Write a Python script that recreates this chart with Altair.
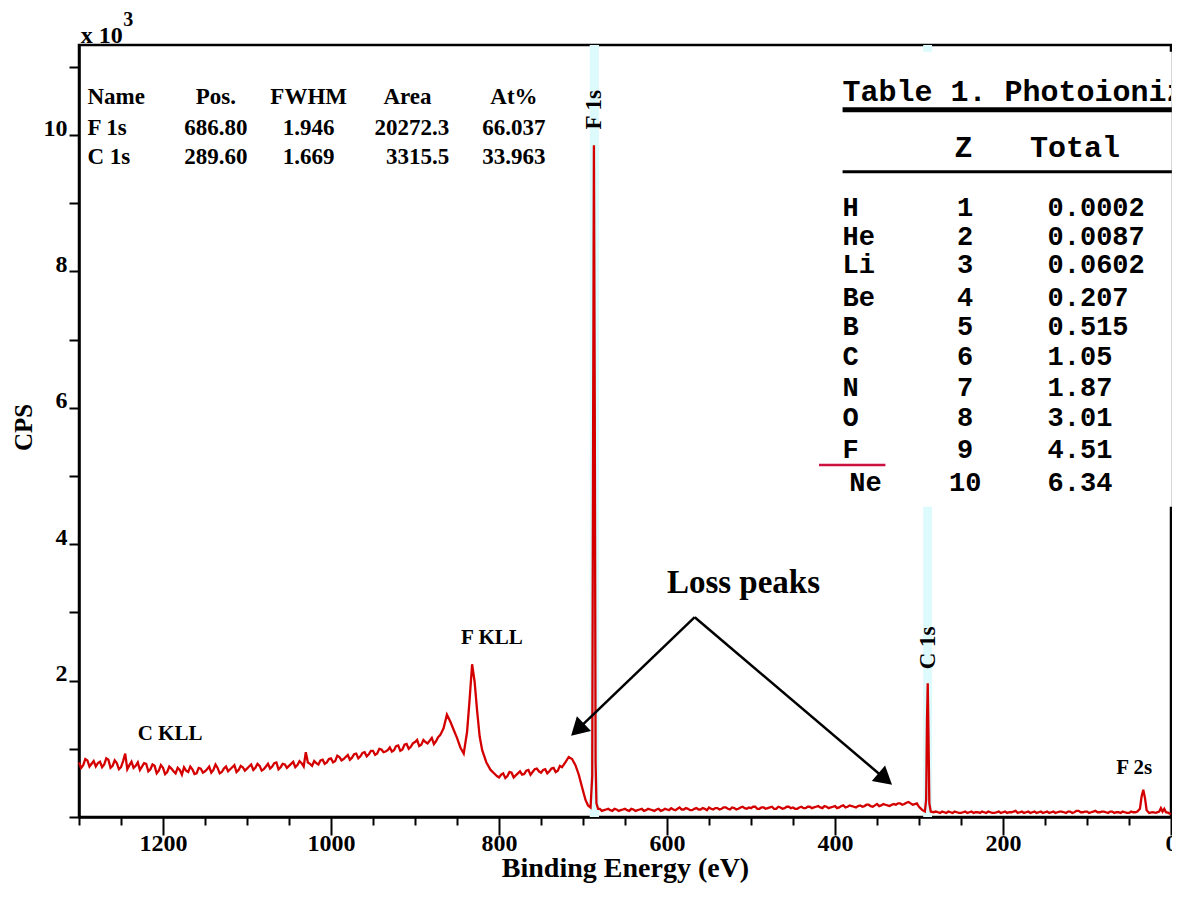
import altair as alt
import pandas as pd

# ---------------- spectrum (binding energy eV, intensity in 10^3 CPS) ----------------
be_a = list(range(1300, 869, -5))
cps_a = [0.80, 0.76, 0.83, 0.78, 0.74, 0.81, 0.77, 0.84, 0.75, 0.79,
         0.73, 0.93, 0.76, 0.72, 0.80, 0.74, 0.78, 0.70, 0.75, 0.68,
         0.72, 0.66, 0.71, 0.64, 0.69, 0.73, 0.66, 0.70, 0.64, 0.71,
         0.67, 0.74, 0.69, 0.72, 0.66, 0.74, 0.70, 0.76, 0.69, 0.73,
         0.71, 0.77, 0.72, 0.75, 0.70, 0.78, 0.74, 0.80, 0.73, 0.77,
         0.75, 0.81, 0.76, 0.79, 0.95, 0.78, 0.82, 0.77, 0.84, 0.80,
         0.86, 0.82, 0.88, 0.85, 0.91, 0.87, 0.93, 0.89, 0.95, 0.92,
         0.97, 0.93, 0.99, 0.96, 1.02, 0.98, 1.05, 0.99, 1.07, 1.03,
         1.10, 1.04, 1.13, 1.08, 1.16, 1.11,
         1.20]
be_a2 = [v / 10 for v in range(12975, 8720, -50)]
cps_a2 = [0.72, 0.85, 0.74, 0.82, 0.79, 0.73, 0.86, 0.72, 0.83, 0.70,
          0.82, 0.70, 0.81, 0.75, 0.69, 0.79, 0.67, 0.77, 0.64, 0.76,
          0.63, 0.74, 0.67, 0.72, 0.62, 0.68, 0.74, 0.63, 0.72, 0.65,
          0.70, 0.65, 0.77, 0.64, 0.71, 0.67, 0.73, 0.66, 0.75, 0.68,
          0.74, 0.69, 0.78, 0.68, 0.74, 0.71, 0.79, 0.70, 0.78, 0.72,
          0.78, 0.73, 0.82, 0.74, 0.80, 0.75, 0.79, 0.83, 0.78, 0.85,
          0.80, 0.90, 0.83, 0.88, 0.84, 0.92, 0.86, 0.94, 0.89, 0.97,
          0.91, 1.00, 0.95, 0.98, 0.96, 1.04, 0.97, 1.06, 1.00, 1.08,
          1.13, 1.06, 1.10, 1.12, 1.07, 1.17]
be_b = [866, 862, 858, 854, 850, 846, 842, 838, 835, 832, 829, 826, 823, 820, 815, 810]
cps_b = [1.30, 1.50, 1.40, 1.28, 1.16, 1.02, 0.93, 1.25, 1.72, 2.24, 1.98, 1.55, 1.18, 0.98, 0.80, 0.69]
be_c = list(range(805, 724, -5))
cps_c = [0.63, 0.58, 0.64, 0.60, 0.65, 0.61, 0.67, 0.63, 0.69, 0.66, 0.71, 0.65, 0.70, 0.67, 0.72, 0.68, 0.73]
be_c2 = [v / 10 for v in range(8025, 7270, -50)]
cps_c2 = [0.60, 0.62, 0.57, 0.66, 0.58, 0.64, 0.62, 0.68, 0.62, 0.70, 0.67, 0.69, 0.64, 0.71, 0.66, 0.75]
be_d = [721, 717, 713, 709, 705, 701, 697, 694, 691, 689, 688, 687, 686, 685, 684, 682]
cps_d = [0.80, 0.88, 0.85, 0.76, 0.62, 0.43, 0.25, 0.17, 0.14, 0.60, 5.50, 9.85, 6.00, 0.80, 0.20, 0.12]
be_e = list(range(680, 299, -5))
cps_e = [0.12, 0.10, 0.12, 0.09, 0.11, 0.10, 0.12, 0.09, 0.11, 0.10,
         0.12, 0.10, 0.11, 0.09, 0.12, 0.10, 0.11, 0.13, 0.10, 0.14,
         0.11, 0.12, 0.10, 0.13, 0.11, 0.12, 0.14, 0.11, 0.13, 0.12,
         0.14, 0.11, 0.13, 0.12, 0.15, 0.12, 0.13, 0.15, 0.12, 0.14,
         0.13, 0.15, 0.12, 0.14, 0.13, 0.15, 0.14, 0.12, 0.15, 0.13,
         0.15, 0.14, 0.16, 0.13, 0.15, 0.14, 0.16, 0.14, 0.17, 0.15,
         0.16, 0.14, 0.17, 0.16, 0.18, 0.15, 0.19, 0.17, 0.18, 0.16,
         0.19, 0.20, 0.18, 0.21, 0.20, 0.19, 0.15]
be_e2 = [v / 10 for v in range(6775, 3020, -50)]
cps_e2 = [0.09, 0.11, 0.10, 0.12, 0.09, 0.11, 0.10, 0.12, 0.09, 0.11,
          0.09, 0.12, 0.10, 0.11, 0.09, 0.12, 0.10, 0.11, 0.12, 0.11,
          0.13, 0.10, 0.12, 0.11, 0.13, 0.10, 0.12, 0.13, 0.11, 0.14,
          0.12, 0.14, 0.11, 0.14, 0.13, 0.14, 0.15, 0.12, 0.14, 0.12,
          0.14, 0.12, 0.15, 0.12, 0.15, 0.13, 0.12, 0.14, 0.13, 0.15,
          0.13, 0.15, 0.14, 0.16, 0.13, 0.15, 0.13, 0.16, 0.14, 0.17,
          0.15, 0.16, 0.15, 0.18, 0.16, 0.17, 0.16, 0.19, 0.17, 0.18,
          0.18, 0.20, 0.19, 0.22, 0.18, 0.20]
be_f = [296, 293, 291.5, 290.5, 289.6, 288.7, 287.7, 286, 283]
cps_f = [0.10, 0.08, 0.25, 1.40, 1.96, 1.20, 0.20, 0.08, 0.07]
be_g = list(range(280, 39, -5))
cps_g = [0.08, 0.06, 0.07, 0.08, 0.06, 0.07, 0.06, 0.08, 0.07, 0.06,
         0.07, 0.08, 0.06, 0.07, 0.06, 0.08, 0.07, 0.06, 0.07, 0.09,
         0.07, 0.06, 0.08, 0.07, 0.06, 0.08, 0.07, 0.06, 0.08, 0.07,
         0.08, 0.06, 0.08, 0.07, 0.09, 0.07, 0.08, 0.07, 0.09, 0.07,
         0.08, 0.06, 0.08, 0.07, 0.06, 0.07, 0.06, 0.07, 0.08]
be_g2 = [v / 10 for v in range(2775, 420, -50)]
cps_g2 = [0.07, 0.08, 0.06, 0.07, 0.08, 0.06, 0.07, 0.06, 0.08, 0.07,
          0.06, 0.07, 0.08, 0.06, 0.07, 0.06, 0.08, 0.07, 0.08, 0.06,
          0.08, 0.07, 0.06, 0.08, 0.07, 0.06, 0.08, 0.07, 0.06, 0.08,
          0.07, 0.08, 0.06, 0.09, 0.07, 0.08, 0.06, 0.08, 0.07, 0.08,
          0.07, 0.08, 0.06, 0.07, 0.08, 0.06, 0.08, 0.07]
be_h = [37, 35, 33, 31, 29, 26, 22, 18, 14, 12, 10, 8, 6, 3, 0]
cps_h = [0.12, 0.30, 0.40, 0.28, 0.10, 0.06, 0.07, 0.06, 0.08, 0.13, 0.08, 0.12, 0.07, 0.06, 0.04]

be = be_a + be_a2 + be_b + be_c + be_c2 + be_d + be_e + be_e2 + be_f + be_g + be_g2 + be_h
cps = cps_a + cps_a2 + cps_b + cps_c + cps_c2 + cps_d + cps_e + cps_e2 + cps_f + cps_g + cps_g2 + cps_h
spec = pd.DataFrame({"be": be, "kcps": cps}).sort_values("be")

# peak marker bands (eV)
band_lo = [681, 284.5]
band_hi = [692, 295]

# quantification table (top-left)
qt_left_text = ["Name", "F 1s", "C 1s"]
qt_left_be = [1290, 1290, 1290]
qt_row_v = [10.56, 10.10, 9.68]
qt_center_text = ["Pos.", "FWHM", "Area", "At%",
                  "686.80", "1.946", "66.037",
                  "289.60", "1.669", "33.963"]
qt_center_be = [1137, 1026.6, 908.9, 782.2,
                1137, 1026.6, 782.2,
                1137, 1026.6, 782.2]
qt_center_v = [10.56, 10.56, 10.56, 10.56,
               10.10, 10.10, 10.10,
               9.68, 9.68, 9.68]
qt_right_text = ["20272.3", "3315.5"]
qt_right_be = [859.2, 859.2]
qt_right_v = [10.10, 9.68]

# inset "Table 1" (photoionization cross sections)
t1_elements = ["H", "He", "Li", "Be", "B", "C", "N", "O", "F", "Ne"]
t1_z = ["1", "2", "3", "4", "5", "6", "7", "8", "9", "10"]
t1_total = ["0.0002", "0.0087", "0.0602", "0.207", "0.515", "1.05", "1.87", "3.01", "4.51", "6.34"]
t1_row_v = [8.93, 8.50, 8.09, 7.61, 7.18, 6.74, 6.29, 5.85, 5.38, 4.90]
t1_elem_be = [391, 391, 391, 391, 391, 391, 391, 391, 391, 383]

# annotations
ann_text = ["F KLL", "C KLL", "F 2s"]
ann_be = [808.4, 1191.6, 43.7]
ann_v = [2.62, 1.22, 0.72]

RED = "#d40000"
SERIF = "Liberation Serif"
MONO = "Liberation Mono"

xscale = alt.Scale(domain=[0, 1300], reverse=True, nice=False, zero=False)
yscale = alt.Scale(domain=[0, 11.32], nice=False, zero=True)

xaxis = alt.Axis(
    values=list(range(0, 1301, 50)), format="d",
    labelExpr="datum.value % 200 === 0 ? datum.label : ''",
    tickSize={"condition": {"test": "datum.value % 200 === 0", "value": 18}, "value": 8},
    tickWidth=2, tickColor="black", domainColor="black", domainWidth=2.5,
    labelFont=SERIF, labelFontWeight="bold", labelFontSize=24, labelColor="black",
    labelFlush=False, labelOverlap=False, labelBaseline="top", labelPadding=-4,
    grid=False, title="Binding Energy (eV)", titleFont=SERIF, titleFontWeight="bold",
    titleFontSize=28, titleColor="black", titleX=546, titleY=59, titleBaseline="alphabetic",
    titleAlign="center",
)
yaxis = alt.Axis(
    values=list(range(0, 12)),
    labelExpr="datum.value > 0 && datum.value % 2 === 0 ? datum.label : ''",
    tickSize=10, tickWidth=2, tickColor="black", domainColor="black", domainWidth=2.5,
    labelFont=SERIF, labelFontWeight="bold", labelFontSize=24, labelColor="black",
    labelBaseline="alphabetic", labelPadding=2, labelOverlap=False,
    grid=False, title="CPS", titleFont=SERIF, titleFontWeight="bold", titleFontSize=25,
    titleColor="black", titleAngle=270, titleX=-56, titleY=382, titleBaseline="middle",
    titleAlign="center",
)


def X(field="be"):
    return alt.X(f"{field}:Q", scale=xscale, axis=xaxis)


def Y(field="kcps"):
    return alt.Y(f"{field}:Q", scale=yscale, axis=yaxis)


bands = alt.Chart(pd.DataFrame({"be": band_lo, "be2": band_hi})).mark_rect(
    color="#ddfafd").encode(x=X(), x2="be2:Q", y=alt.value(0), y2=alt.value(772))

line = alt.Chart(spec).mark_line(color=RED, strokeWidth=2.3, interpolate="linear").encode(
    x=X(), y=Y(), order="be:Q")

# white backdrop of the inset table
inset_bg = alt.Chart(pd.DataFrame({"be": [427], "be2": [-1.0], "kcps": [4.55], "kcps2": [11.22]})).mark_rect(
    color="white").encode(x=X(), x2="be2:Q", y=Y(), y2="kcps2:Q")

t1_rules = alt.Chart(pd.DataFrame({"be": [391, 391], "be2": [-1.0, -1.0], "kcps": [10.37, 9.46],
                                   "w": [5, 3]})).mark_rule(color="black").encode(
    x=X(), x2="be2:Q", y=Y(), strokeWidth=alt.StrokeWidth("w:Q", scale=None))

t1_title = alt.Chart(pd.DataFrame({"be": [391], "kcps": [10.63],
                                   "t": ["Table 1. Photoionization"]})).mark_text(
    font=MONO, fontWeight="bold", fontSize=30, align="left", baseline="middle", color="black",
    clip=True).encode(x=X(), y=Y(), text="t:N")
t1_head = alt.Chart(pd.DataFrame({"be": [168], "kcps": [9.81], "t": ["Total"]})).mark_text(
    font=MONO, fontWeight="bold", fontSize=30, align="left", baseline="middle", color="black").encode(
    x=X(), y=Y(), text="t:N")
t1_zhead = alt.Chart(pd.DataFrame({"be": [247], "kcps": [9.81], "t": ["Z"]})).mark_text(
    font=MONO, fontWeight="bold", fontSize=30, align="center", baseline="middle", color="black").encode(
    x=X(), y=Y(), text="t:N")
t1_el = alt.Chart(pd.DataFrame({"be": t1_elem_be, "kcps": t1_row_v, "t": t1_elements})).mark_text(
    font=MONO, fontWeight="bold", fontSize=27, align="left", baseline="middle", color="black").encode(
    x=X(), y=Y(), text="t:N")
t1_zc = alt.Chart(pd.DataFrame({"be": [245] * 10, "kcps": t1_row_v, "t": t1_z})).mark_text(
    font=MONO, fontWeight="bold", fontSize=27, align="center", baseline="middle", color="black").encode(
    x=X(), y=Y(), text="t:N")
t1_tot = alt.Chart(pd.DataFrame({"be": [147] * 10, "kcps": t1_row_v, "t": t1_total})).mark_text(
    font=MONO, fontWeight="bold", fontSize=27, align="left", baseline="middle", color="black").encode(
    x=X(), y=Y(), text="t:N")
t1_underline = alt.Chart(pd.DataFrame({"be": [419], "be2": [340.0], "kcps": [5.16]})).mark_rule(
    color="#cc1040", strokeWidth=2.5).encode(x=X(), x2="be2:Q", y=Y())

qt_l = alt.Chart(pd.DataFrame({"be": qt_left_be, "kcps": qt_row_v, "t": qt_left_text})).mark_text(
    font=SERIF, fontWeight="bold", fontSize=23, align="left", baseline="middle", color="black").encode(
    x=X(), y=Y(), text="t:N")
qt_c = alt.Chart(pd.DataFrame({"be": qt_center_be, "kcps": qt_center_v, "t": qt_center_text})).mark_text(
    font=SERIF, fontWeight="bold", fontSize=23, align="center", baseline="middle", color="black").encode(
    x=X(), y=Y(), text="t:N")
qt_r = alt.Chart(pd.DataFrame({"be": qt_right_be, "kcps": qt_right_v, "t": qt_right_text})).mark_text(
    font=SERIF, fontWeight="bold", fontSize=23, align="right", baseline="middle", color="black").encode(
    x=X(), y=Y(), text="t:N")

ann = alt.Chart(pd.DataFrame({"be": ann_be, "kcps": ann_v, "t": ann_text})).mark_text(
    font=SERIF, fontWeight="bold", fontSize=21, align="center", baseline="middle", color="black").encode(
    x=X(), y=Y(), text="t:N")
peak_lbl = alt.Chart(pd.DataFrame({"be": [686.8, 288.8], "kcps": [10.37, 2.48], "t": ["F 1s", "C 1s"]})).mark_text(
    font=SERIF, fontWeight="bold", fontSize=23, align="center", baseline="middle", angle=270,
    color="black").encode(x=X(), y=Y(), text="t:N")
loss_lbl = alt.Chart(pd.DataFrame({"be": [509], "kcps": [3.43], "t": ["Loss peaks"]})).mark_text(
    font=SERIF, fontWeight="bold", fontSize=33, align="center", baseline="middle", color="black").encode(
    x=X(), y=Y(), text="t:N")
exp_lbl = alt.Chart(pd.DataFrame({"be": [1298], "kcps": [11.35], "t": ["x 10"]})).mark_text(
    font=SERIF, fontWeight="bold", fontSize=24, align="left", baseline="alphabetic", color="black").encode(
    x=X(), y=Y(), text="t:N")
exp_sup = alt.Chart(pd.DataFrame({"be": [1247.3], "kcps": [11.69], "t": ["3"]})).mark_text(
    font=SERIF, fontWeight="bold", fontSize=20, align="left", baseline="middle", color="black").encode(
    x=X(), y=Y(), text="t:N")

arrow_lines = alt.Chart(pd.DataFrame({"be": [567, 567], "kcps": [2.93, 2.93],
                                      "be2": [706.5, 340.2], "kcps2": [1.28, 0.557]})).mark_rule(
    color="black", strokeWidth=2.5).encode(x=X(), y=Y(), x2="be2:Q", y2="kcps2:Q")
arrow_heads = alt.Chart(pd.DataFrame({"be": [706.5, 340.2], "kcps": [1.28, 0.557], "ang": [226.4, 130.2]})).mark_point(
    shape="triangle-up", filled=True, color="black", size=420, opacity=1).encode(
    x=X(), y=Y(), angle=alt.Angle("ang:Q", scale=None))

chart = alt.layer(
    bands, line, inset_bg, t1_rules, t1_title, t1_head, t1_zhead, t1_el, t1_zc, t1_tot, t1_underline,
    qt_l, qt_c, qt_r, ann, peak_lbl, loss_lbl, exp_lbl, exp_sup, arrow_lines, arrow_heads,
).properties(
    width=1092, height=772,
    autosize=alt.AutoSizeParams(type="none"),
    padding={"left": 71, "top": 37, "right": 1, "bottom": 67},
    background="white",
).configure_view(stroke="black", strokeWidth=2.5)

chart.save("out.html", embed_options={"renderer": "svg", "actions": False})
